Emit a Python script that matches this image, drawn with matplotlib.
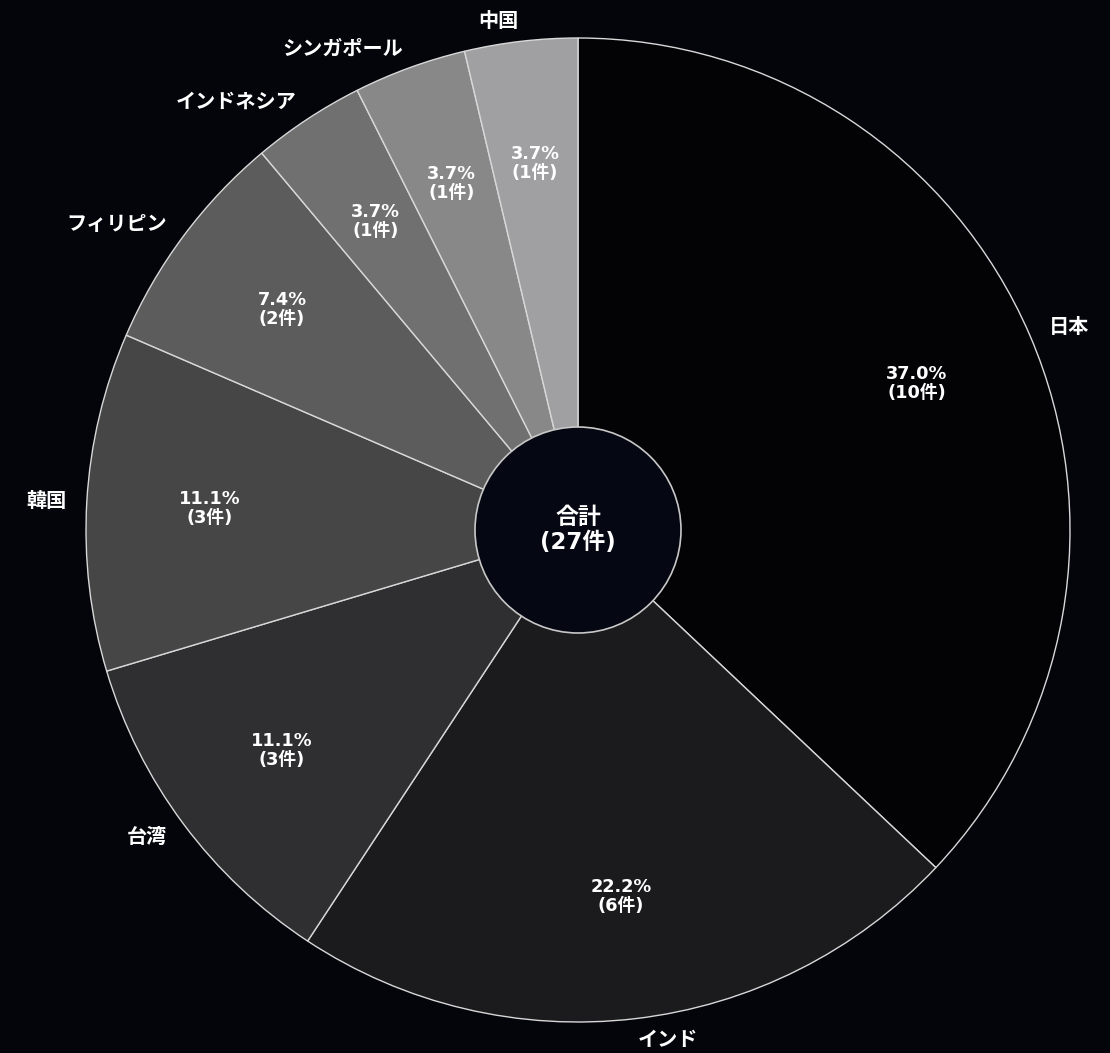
import matplotlib
matplotlib.use('Agg')
import matplotlib.pyplot as plt
from matplotlib.patches import Circle

plt.rcParams['font.family'] = ['Noto Sans CJK JP', 'DejaVu Sans']
num_font = ['DejaVu Sans', 'Noto Sans CJK JP']

# Data
countries = ['日本', 'インド', '台湾', '韓国', 'フィリピン', 'インドネシア', 'シンガポール', '中国']
counts = [10, 6, 3, 3, 2, 1, 1, 1]
colors = ['#030306', '#1b1b1d', '#2f2f31', '#464647', '#5c5c5c', '#707070', '#888888', '#a0a0a2']
total = sum(counts)

bg = '#04050b'
fig = plt.figure(figsize=(11.1, 10.53), dpi=100, facecolor=bg)
ax = fig.add_axes([0, 0, 1, 1])
ax.set_facecolor(bg)

# pie centre at pixel (578, 530), radius 492 px
R = 492
cx, cy = 578, 530
W, H = 1110, 1053

wedges, texts, autotexts = ax.pie(
    counts, labels=countries, colors=colors, startangle=90, counterclock=False,
    radius=1, labeldistance=1.042, pctdistance=0.75,
    autopct=lambda p: f'{p:.1f}%\n({round(p * total / 100)}件)',
    wedgeprops=dict(edgecolor='#d8d8d8', linewidth=1.0),
    textprops=dict(color='white', fontweight='bold'),
)
for t in texts:
    t.set_fontsize(14.5)
for t in autotexts:
    t.set_fontsize(12.8)
    t.set_family(num_font)
    t.set_linespacing(1.05)

# centre hole
ax.add_patch(Circle((0, 0), 103 / R, facecolor='#050812', edgecolor='#c8c8c8',
                    linewidth=1.2, zorder=5))
ax.text(0, 0, f'合計\n({total}件)', ha='center', va='center', color='white',
        fontsize=16.5, fontweight='bold', linespacing=1.1, zorder=6,
        family=num_font)

ax.set_xlim(-cx / R, (W - cx) / R)
ax.set_ylim(-(H - cy) / R, cy / R)
ax.set_aspect('auto')
ax.axis('off')

fig.savefig('out.png', dpi=100, facecolor=bg)
